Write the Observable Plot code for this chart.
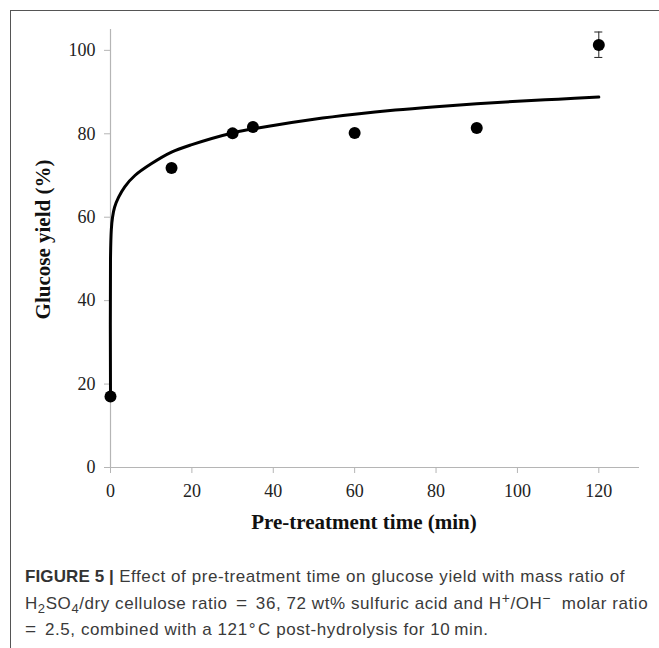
<!DOCTYPE html>
<html>
<head>
<meta charset="utf-8">
<script src="https://cdn.jsdelivr.net/npm/d3@7"></script>
<script src="https://cdn.jsdelivr.net/npm/@observablehq/plot@0.6"></script>
<style>
  html, body { margin: 0; padding: 0; background: #fff; }
  body { width: 659px; height: 648px; position: relative; overflow: hidden; }
  #frame { position: absolute; left: 10px; top: 10px; width: 660px; height: 660px;
           border-left: 1.5px solid #555; border-top: 1.5px solid #555; }
  #chart { position: absolute; left: 0; top: 0; }
  #caption { position: absolute; left: 25px; top: 564px; width: 640px;
             font-family: "Liberation Sans", Arial, sans-serif; font-size: 17px;
             line-height: 25.5px; color: #3a3a3a; white-space: nowrap; letter-spacing: 0.57px; }
  #caption b { color: #333; letter-spacing: 0.1px; }
  #caption sub { font-size: 13px; line-height: 0; vertical-align: -4px; }
  #caption sup { font-size: 14px; line-height: 0; vertical-align: 6px; }
  #caption .eq { font-size: 19px; margin: 0 3px; }
  #caption .deg { margin: 0 2px 0 1px; }
</style>
</head>
<body>
<div id="frame"></div>
<div id="chart"></div>
<div id="caption">
  <b>FIGURE 5 |</b> Effect of pre-treatment time on glucose yield with mass ratio of<br>
  H<sub>2</sub>SO<sub>4</sub>/dry cellulose ratio <span class="eq">=</span> 36, 72 wt% sulfuric acid and H<sup>+</sup>/OH<sup>−</sup>&nbsp; molar ratio<br>
  <span class="eq" style="margin-left:0">=</span> 2.5, combined with a 121<span class="deg">°</span>C post-hydrolysis for 10&#8201;min.
</div>
<script>
// Measured points
const times  = [0, 15, 30, 35, 60, 90, 120];
const yields = [17.0, 71.8, 80.1, 81.6, 80.2, 81.4, 101.3];
// Error bar (only visible one, at 120 min)
const errTime = [120];
const errLow  = [98.3];
const errHigh = [104.4];
// Fitted curve
const fitTime  = [0, 0, 0.2, 0.5, 1, 2, 3.5, 6, 10, 15, 20, 30, 40, 50, 60, 70, 80, 90, 100, 110, 120];
const fitYield = [17, 50, 57, 60, 62.4, 64.8, 67.3, 70, 72.8, 75.6, 77.4, 80.2, 82.0, 83.5, 84.7, 85.7, 86.5, 87.2, 87.8, 88.3, 88.8];
const xTicks = [0, 20, 40, 60, 80, 100, 120];
const yTicks = [0, 20, 40, 60, 80, 100];
const xTitle = "Pre-treatment time (min)";
const yTitle = "Glucose yield (%)";

const points = times.map((t, i) => ({t, y: yields[i]}));
const fit = fitTime.map((t, i) => ({t, y: fitYield[i]}));
const errs = errTime.map((t, i) => ({t, lo: errLow[i], hi: errHigh[i]}));

const plot = Plot.plot({
  width: 659,
  height: 540,
  marginLeft: 110,
  marginRight: 20,
  marginTop: 29,
  marginBottom: 73,
  style: { fontFamily: "Liberation Serif, 'Times New Roman', serif", fontSize: "18px", color: "#222", background: "transparent" },
  x: { domain: [0, 130] },
  y: { domain: [0, 105] },
  marks: [
    Plot.ruleY([0], { stroke: "#b5b5b5", strokeWidth: 1.2 }),
    Plot.ruleX([0], { stroke: "#b5b5b5", strokeWidth: 1.2 }),
    Plot.axisX({ ticks: xTicks, tickSize: 6, tickPadding: 11, stroke: "#b5b5b5", label: null }),
    Plot.axisY({ ticks: yTicks, tickSize: 6, tickPadding: 9, stroke: "#b5b5b5", label: null }),
    Plot.text([xTitle], { text: d => d, frameAnchor: "bottom", dy: 55, dx: -11,
                          textAnchor: "middle", lineAnchor: "middle",
                          fontWeight: "bold", fontSize: 21, fill: "#111" }),
    Plot.text([yTitle], { text: d => d, frameAnchor: "left", rotate: -90, dx: -67, dy: -9,
                          textAnchor: "middle", lineAnchor: "middle",
                          fontWeight: "bold", fontSize: 21, fill: "#111" }),
    Plot.line(fit, { x: "t", y: "y", stroke: "#000", strokeWidth: 3, curve: "catmull-rom" }),
    Plot.ruleX(errs, { x: "t", y1: "lo", y2: "hi", stroke: "#222", strokeWidth: 1 }),
    Plot.ruleY(errs, { y: "lo", x1: "t", x2: "t", insetLeft: -4, insetRight: -4, stroke: "#222", strokeWidth: 1 }),
    Plot.ruleY(errs, { y: "hi", x1: "t", x2: "t", insetLeft: -4, insetRight: -4, stroke: "#222", strokeWidth: 1 }),
    Plot.dot(points, { x: "t", y: "y", r: 6, fill: "#000", stroke: "none" })
  ]
});
document.getElementById("chart").appendChild(plot);
</script>
</body>
</html>
